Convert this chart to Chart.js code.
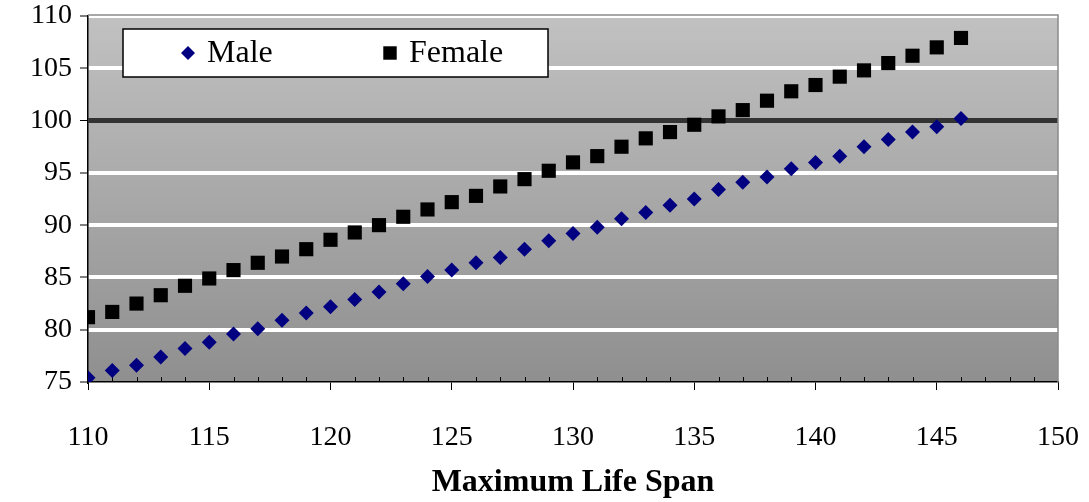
<!DOCTYPE html>
<html>
<head>
<meta charset="utf-8">
<script src="https://cdn.jsdelivr.net/npm/chart.js@4/dist/chart.umd.min.js"></script>
<style>
  html, body { margin: 0; padding: 0; background: #fff; }
  #wrap { width: 1089px; height: 502px; }
</style>
</head>
<body>
<div id="wrap"><canvas id="lifeSpanChart" width="1089" height="502"></canvas></div>
<script>
const lifeSpans = [110, 111, 112, 113, 114, 115, 116, 117, 118, 119, 120, 121, 122, 123, 124, 125, 126, 127, 128,
    129, 130, 131, 132, 133, 134, 135, 136, 137, 138, 139, 140, 141, 142, 143, 144, 145, 146]
const maleValues = [75.4, 76.1, 76.6, 77.4, 78.2, 78.8, 79.6, 80.1, 80.9, 81.6, 82.2, 82.9, 83.6, 84.4, 85.1, 85.7, 86.4,
    86.9, 87.7, 88.5, 89.2, 89.8, 90.6, 91.2, 91.9, 92.5, 93.4, 94.1, 94.6, 95.4, 96.0, 96.6, 97.5, 98.2, 98.9, 99.4, 100.2]
const femaleValues = [81.2, 81.7, 82.5, 83.3, 84.2, 84.9, 85.7, 86.4, 87.0, 87.7, 88.6, 89.3, 90.0, 90.8, 91.5, 92.2, 92.8,
    93.7, 94.4, 95.2, 96.0, 96.6, 97.5, 98.3, 98.9, 99.6, 100.4, 101.0, 101.9, 102.8, 103.4, 104.2, 104.8, 105.5, 106.2, 107.0, 107.9]
const seriesNames = ["Male", "Female"]
const xTicks = { min: 110, max: 150, step: 5 }
const yTicks = { min: 75, max: 110, step: 5 }
const referenceLevel = 100

const serif = "'Liberation Serif', 'DejaVu Serif', serif"

const toPoints = values => values.map((v, i) => ({ x: lifeSpans[i], y: v }))

// gradient fill behind plot area
const plotBackground = {
    id: "plotBackground",
    beforeDraw: chart => {
        const { ctx, chartArea: a } = chart
        const g = ctx.createLinearGradient(0, a.top, 0, a.bottom)
        g.addColorStop(0, "#c1c1c1")
        g.addColorStop(1, "#8f8f8f")
        ctx.save()
        ctx.fillStyle = g
        ctx.fillRect(a.left, a.top, a.right - a.left, a.bottom - a.top)
        ctx.restore()
    },
    beforeDatasetsDraw: chart => {
        const { ctx, chartArea: a, scales } = chart
        ctx.save()
        // top and right frame
        ctx.strokeStyle = "#8a8a8a"
        ctx.lineWidth = 1.5
        ctx.beginPath()
        ctx.moveTo(a.left, a.top - 1)
        ctx.lineTo(a.right, a.top - 1)
        ctx.lineTo(a.right, a.bottom)
        ctx.stroke()
        // minor ticks on x axis, inside the plot
        ctx.strokeStyle = "#000"
        ctx.lineWidth = 1
        ctx.beginPath()
        for (let v = xTicks.min + 1; v < xTicks.max; v++) {
            if (v % xTicks.step === 0) continue
            const px = Math.round(scales.x.getPixelForValue(v)) + 0.5
            ctx.moveTo(px, a.bottom)
            ctx.lineTo(px, a.bottom - 5)
        }
        ctx.stroke()
        ctx.restore()
    }
}

// boxed legend sitting inside the plot
const boxLegend = {
    id: "boxLegend",
    afterDatasetsDraw: chart => {
        const { ctx, chartArea: a } = chart
        const left = a.left + 35, top = a.top + 13, w = 425, h = 48
        ctx.save()
        ctx.fillStyle = "#fff"
        ctx.fillRect(left, top, w, h)
        ctx.strokeStyle = "#000"
        ctx.lineWidth = 1.5
        ctx.strokeRect(left, top, w, h)
        const cy = top + h / 2
        const items = [
            { x: left + 65, style: "rectRot", radius: 7, color: "#000080" },
            { x: left + 267, style: "rect", radius: 9.5, color: "#000" }
        ]
        ctx.font = `32px ${serif}`
        ctx.textBaseline = "middle"
        items.forEach((it, i) => {
            ctx.fillStyle = it.color
            Chart.helpers.drawPoint(ctx, { pointStyle: it.style, radius: it.radius, borderWidth: 0 }, it.x, cy)
            ctx.fillStyle = "#000"
            ctx.fillText(chart.data.datasets[i].label, it.x + 19, cy + 1)
        })
        ctx.restore()
    }
}

const ctx = document.getElementById("lifeSpanChart").getContext("2d")

new Chart(ctx, {
    type: "scatter",
    data: {
        datasets: [
            {
                label: seriesNames[0],
                data: toPoints(maleValues),
                pointStyle: "rectRot",
                pointRadius: 7.5,
                backgroundColor: "#000080",
                borderColor: "#000080",
                borderWidth: 0
            },
            {
                label: seriesNames[1],
                data: toPoints(femaleValues),
                pointStyle: "rect",
                pointRadius: 10,
                backgroundColor: "#000",
                borderColor: "#000",
                borderWidth: 0
            }
        ]
    },
    options: {
        responsive: false,
        animation: false,
        layout: { padding: { left: 0, right: 31, top: 16, bottom: 0 } },
        plugins: {
            legend: { display: false },
            tooltip: { enabled: false }
        },
        scales: {
            x: {
                type: "linear",
                min: xTicks.min,
                max: xTicks.max,
                afterFit: scale => {
                    scale.height = 120
                    scale.paddingLeft = 0
                    scale.paddingRight = 0
                },
                ticks: {
                    stepSize: xTicks.step,
                    color: "#000",
                    padding: 31,
                    maxRotation: 0,
                    font: { family: serif, size: 28 }
                },
                grid: {
                    drawOnChartArea: false,
                    drawTicks: true,
                    tickLength: 8,
                    tickColor: "#000",
                    tickWidth: 1
                },
                border: { color: "#000", width: 1.5 },
                title: {
                    display: true,
                    text: "Maximum Life Span",
                    color: "#000",
                    font: { family: serif, size: 32, weight: "bold" },
                    padding: { top: 0, bottom: 0 }
                }
            },
            y: {
                min: yTicks.min,
                max: yTicks.max,
                afterFit: scale => {
                    scale.width = 88
                    scale.paddingTop = 0
                    scale.paddingBottom = 0
                },
                ticks: {
                    stepSize: yTicks.step,
                    color: "#000",
                    padding: 8,
                    font: { family: serif, size: 28 }
                },
                grid: {
                    color: c => c.tick.value === referenceLevel ? "#333333"
                        : c.tick.value === yTicks.min ? "rgba(0,0,0,0)" : "#ffffff",
                    lineWidth: c => c.tick.value === referenceLevel ? 5 : 4,
                    tickLength: 8,
                    tickColor: "#000",
                    tickWidth: 1
                },
                border: { color: "#000", width: 1.5 }
            }
        }
    },
    plugins: [plotBackground, boxLegend]
})
</script>
</body>
</html>
